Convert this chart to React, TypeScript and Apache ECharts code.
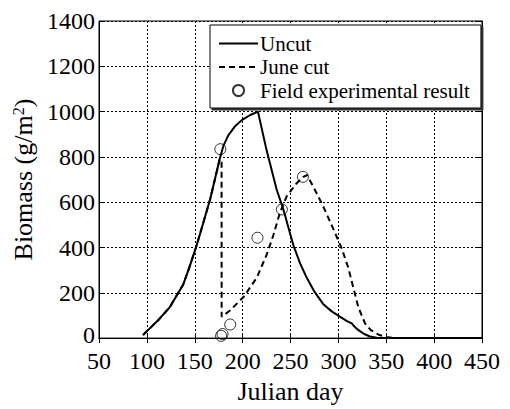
import React, { useEffect, useRef } from "react";
import * as echarts from "echarts";

const uncutDays = [96, 103, 112, 124, 138, 145, 152, 159, 166, 171, 176, 180, 185, 192, 200, 208, 216, 225, 235.6, 242.5, 253, 260, 267, 275, 284, 293, 302, 309, 314, 317, 321, 327, 333, 340, 348, 450];
const uncutVals = [14, 43, 80, 137, 237, 320, 410, 510, 612, 700, 790, 850, 895, 935, 965, 985, 1000, 830, 655, 569, 410, 330, 266, 205, 151, 118, 94, 75, 65, 50, 35, 18, 7, 2, 0, 0];

const juneDays = [96, 103, 112, 124, 138, 145, 152, 159, 166, 171, 176, 178, 178.1, 186.8, 200.7, 214.7, 225, 232, 239, 246, 256.5, 263.4, 267, 273.8, 284, 294.7, 303.5, 310.4, 315.6, 320.8, 327.8, 334, 342, 350, 358, 450];
const juneVals = [14, 43, 80, 137, 237, 320, 410, 510, 612, 700, 790, 790, 94, 122, 180, 266, 367, 453, 554, 626, 684, 712, 720, 669, 583, 482, 396, 310, 223, 137, 65, 35, 15, 5, 0, 0];

const fieldDays = [176.7, 177.5, 179, 187, 215.5, 241, 263];
const fieldVals = [834, 10, 18, 60, 443, 568, 712];

const xTicks = { min: 50, max: 450, interval: 50 };
const yTicks = { min: 0, max: 1400, interval: 200 };

const FONT = "'Liberation Serif', 'Times New Roman', serif";

export default function App() {
  const ref = useRef<HTMLDivElement>(null);
  useEffect(() => {
    const chart = echarts.init(ref.current!, null, { renderer: "svg" });
    const zip = (a: number[], b: number[]) => a.map((d, i) => [d, b[i]]);
    const axisCommon = {
      axisLine: { show: true, lineStyle: { color: "#000", width: 1 } },
      axisTick: { show: true, inside: true, length: 5, lineStyle: { color: "#000" } },
    };
    const plain = (v: number) => String(v);
    chart.setOption({
      animation: false,
      backgroundColor: "#fff",
      textStyle: { fontFamily: FONT },
      grid: { left: 99, right: 28, top: 21, bottom: 64, show: true, borderColor: "#000", borderWidth: 1 },
      xAxis: [
        {
          type: "value",
          ...xTicks,
          ...axisCommon,
          name: "Julian day",
          nameLocation: "middle",
          nameGap: 32,
          nameTextStyle: { fontFamily: FONT, fontSize: 26, color: "#000", fontWeight: "normal" },
          axisLabel: { fontFamily: FONT, fontSize: 24, color: "#000", margin: 11, formatter: plain },
          splitLine: { show: true, lineStyle: { color: "#000", type: [2, 2], width: 1 } },
        },
        {
          type: "value",
          position: "top",
          ...xTicks,
          ...axisCommon,
          axisLabel: { show: false },
          splitLine: { show: false },
        },
      ],
      yAxis: [
        {
          type: "value",
          ...yTicks,
          ...axisCommon,
          name: "{a|Biomass (g/m}{b|2}{a|)}",
          nameLocation: "middle",
          nameGap: 53,
          nameTextStyle: {
            color: "#000",
            rich: {
              a: { fontFamily: FONT, fontSize: 26, color: "#000", fontWeight: "normal" },
              b: { fontFamily: FONT, fontSize: 16, color: "#000", fontWeight: "normal", verticalAlign: "top", padding: [0, 0, 10, 0] },
            },
          },
          axisLabel: {
            fontFamily: FONT,
            fontSize: 24,
            color: "#000",
            margin: 4,
            formatter: (v: number) => (v === 0 ? "{z|0}" : String(v)),
            rich: { z: { fontFamily: FONT, fontSize: 24, color: "#000", padding: [0, 0, 6, 0] } },
          },
          splitLine: { show: true, lineStyle: { color: "#000", type: [2, 2], width: 1 } },
        },
        {
          type: "value",
          position: "right",
          ...yTicks,
          ...axisCommon,
          axisLabel: { show: false },
          splitLine: { show: false },
        },
      ],
      legend: {
        orient: "vertical",
        left: 210,
        top: 25,
        padding: [8, 11, 7, 8],
        itemGap: 2.5,
        itemWidth: 39,
        itemHeight: 11,
        backgroundColor: "#fff",
        borderColor: "#000",
        borderWidth: 1,
        shadowColor: "#333",
        shadowBlur: 0,
        shadowOffsetX: 2,
        shadowOffsetY: 2,
        textStyle: { fontFamily: FONT, fontSize: 21, color: "#000", lineHeight: 20, padding: [0, 0, 0, -3] },
        data: [
          { name: "Uncut", itemStyle: { opacity: 0 } },
          { name: "June cut", itemStyle: { opacity: 0 } },
          { name: "Field experimental result" },
        ],
      },
      series: [
        {
          name: "Uncut",
          type: "line",
          data: zip(uncutDays, uncutVals),
          symbol: "none",
          lineStyle: { color: "#000", width: 2 },
          itemStyle: { color: "#000" },
        },
        {
          name: "June cut",
          type: "line",
          data: zip(juneDays, juneVals),
          symbol: "none",
          lineStyle: { color: "#000", width: 2, type: [6, 4] },
          itemStyle: { color: "#000" },
        },
        {
          name: "Field experimental result",
          type: "scatter",
          data: zip(fieldDays, fieldVals),
          symbol: "circle",
          symbolSize: 11,
          itemStyle: { color: "rgba(255,255,255,0)", borderColor: "#000", borderWidth: 1 },
          z: 5,
        },
      ],
    });
    return () => chart.dispose();
  }, []);
  return <div ref={ref} style={{ position: "absolute", left: 0, top: 0, width: 510, height: 409 }} />;
}
